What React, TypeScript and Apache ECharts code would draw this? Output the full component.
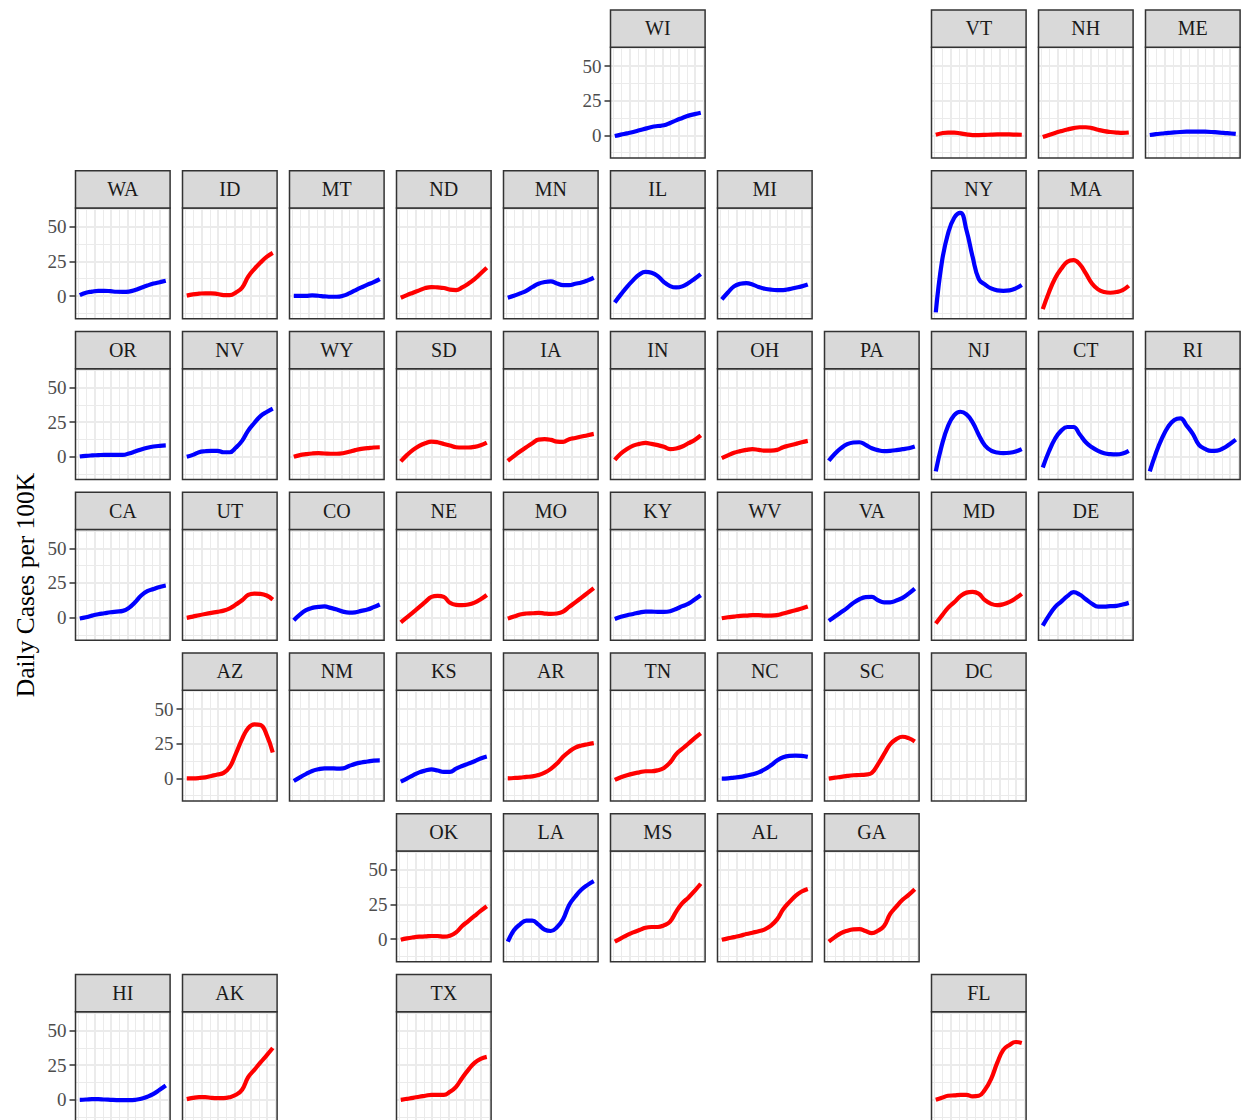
import React, { useEffect, useRef } from "react";
import * as echarts from "echarts";

const xWeeks = [0.17, 0.92, 1.67, 2.43, 3.18, 3.93, 4.68, 5.44, 6.19, 6.94, 7.69, 8.44, 9.2, 9.95, 10.7];
const yTicks = [0, 25, 50];
const yMinor = [-12.5, 12.5, 37.5, 62.5];
const xMajor = [2, 4, 6, 8, 10];
const xMinor = [0, 1, 3, 5, 7, 9, 11];

const WI = [-0.5, 0.5, 1.4, 2.4, 3.6, 4.8, 6, 6.7, 7.2, 8.9, 10.8, 12.5, 14.2, 15.3, 16.3];
const VT = [0.4, 1.5, 2, 2, 1.4, 0.7, 0.2, 0.2, 0.3, 0.5, 0.6, 0.6, 0.6, 0.5, 0.4];
const NH = [-1.2, 0.3, 1.7, 3, 4.2, 5.2, 5.8, 5.8, 5.2, 4, 3, 2.4, 2, 1.8, 2];
const ME = [0.2, 0.8, 1.3, 1.8, 2.1, 2.4, 2.6, 2.7, 2.7, 2.6, 2.4, 2.1, 1.8, 1.4, 1];
const WA = [0.7, 2.4, 3.2, 3.8, 3.8, 3.5, 3.1, 3, 3.2, 4.3, 6, 7.6, 9, 10, 11];
const ID = [0.3, 1.2, 1.7, 2, 2, 1.5, 0.7, 0.7, 2.6, 6, 14, 19.5, 24.2, 28.3, 31.2];
const MT = [0.2, 0.2, 0.2, 0.5, 0.2, -0.2, -0.5, -0.5, 0.2, 1.9, 4.1, 6.2, 8.2, 10, 12.2];
const ND = [-1.2, 0.7, 2.4, 4.1, 5.8, 6.5, 6.2, 5.8, 4.6, 4.3, 6.2, 8.9, 12.2, 16.3, 20.4];
const MN = [-1.2, 0.2, 1.9, 3.8, 6.5, 8.9, 10.1, 10.6, 9.1, 7.9, 7.9, 8.9, 9.8, 11.3, 13.2];
const IL = [-4.6, 1.2, 6.7, 11.5, 15.6, 17.5, 16.8, 14.4, 10.1, 7.2, 6.2, 7, 9.4, 12.5, 15.8];
const MI = [-2.4, 2.6, 7, 8.9, 9.4, 8.4, 6.5, 5.3, 4.6, 4.3, 4.3, 5, 6, 7, 8.4];
const NY = [-11.8, 24.7, 45.1, 56.5, 60, 47.5, 28.3, 12.2, 8.4, 5.5, 4.1, 3.8, 4.1, 5.5, 7.9];
const MA = [-9.4, 2.6, 12.7, 19.7, 24.7, 25.9, 23, 16.3, 9.1, 4.8, 2.9, 2.4, 2.9, 4.3, 7.4];
const OR = [0.2, 0.7, 1, 1.2, 1.4, 1.4, 1.4, 1.4, 2.4, 3.8, 5.3, 6.5, 7.4, 7.9, 8.2];
const NV = [0, 1.4, 3.3, 4, 4.3, 4.3, 3.3, 3.3, 6.7, 11.5, 18.9, 24.4, 29.4, 32.3, 34.7];
const WY = [0, 1.2, 1.9, 2.4, 2.6, 2.4, 2.2, 2.2, 2.6, 3.6, 4.8, 5.7, 6.2, 6.7, 6.9];
const SD = [-3.3, 1.2, 5, 7.9, 9.8, 11, 10.5, 9.3, 8.1, 6.9, 6.7, 6.7, 7.2, 8.4, 10.3];
const IA = [-2.9, 0.5, 3.8, 6.9, 9.8, 12.4, 12.7, 12.2, 11, 10.8, 12.7, 13.6, 14.6, 15.6, 16.5];
const IN = [-2.2, 2.4, 5.7, 8.1, 9.3, 10, 9.3, 8.4, 7.2, 5.5, 6, 7.4, 9.8, 12.2, 15.5];
const OH = [-1, 1, 2.9, 4.1, 5, 5.5, 5, 4.5, 4.5, 5, 6.9, 8.1, 9.3, 10.5, 11.5];
const PA = [-2.9, 2.2, 6.2, 9.1, 10.3, 10.5, 8.6, 6.2, 4.8, 4.1, 4.3, 4.8, 5.5, 6.2, 7.4];
const NJ = [-10.5, 8.6, 22.2, 30.1, 32.5, 30.6, 24.9, 15.8, 8.1, 4.5, 3.1, 2.6, 2.9, 3.8, 5.5];
const CT = [-7.7, 3.8, 13, 18.9, 21.5, 21.5, 16.3, 10.5, 6.9, 4.3, 2.6, 1.9, 1.7, 2.4, 4.3];
const RI = [-10.5, 2.6, 13.4, 21.8, 26.6, 27.8, 22.5, 16.5, 8.6, 5.7, 4.3, 4.5, 6.2, 9.1, 12.4];
const CA = [-0.7, 0.2, 1.4, 2.4, 3.1, 3.8, 4.3, 4.8, 7, 11, 15.9, 19, 20.6, 22.1, 23.1];
const UT = [-0.2, 0.7, 1.7, 2.6, 3.4, 4.1, 5, 6.7, 9.4, 12.5, 16.3, 17.3, 17.1, 15.9, 13];
const CO = [-1.9, 2.2, 5.3, 7, 7.7, 8, 7, 5.8, 4.3, 3.6, 3.8, 4.8, 5.8, 7.5, 9.4];
const NE = [-3.4, 0.2, 3.8, 7.5, 11.3, 14.9, 15.6, 14.9, 10.6, 9.1, 8.9, 9.4, 10.8, 13.2, 16.3];
const MO = [-0.7, 0.7, 2.2, 2.9, 3.1, 3.4, 2.9, 2.6, 2.9, 4.3, 7.7, 11, 14.4, 17.8, 21.2];
const KY = [-1, 0.5, 1.7, 2.6, 3.6, 4.3, 4.3, 4.1, 4.1, 4.6, 6.2, 8.2, 10, 13, 16.1];
const WV = [-0.5, 0.2, 0.7, 1.2, 1.4, 1.7, 1.7, 1.4, 1.4, 1.7, 2.9, 4.1, 5.3, 6.5, 7.9];
const VA = [-2.4, 0.7, 3.8, 7, 10.6, 13.2, 14.7, 14.9, 12.5, 11, 11, 12.3, 14.2, 17.3, 20.9];
const MD = [-4.3, 1.4, 7, 11, 15.4, 18, 18.5, 17.1, 12.5, 9.9, 8.9, 9.6, 11.3, 13.9, 17.1];
const DE = [-5.8, 1.4, 7.5, 11.5, 15.4, 18.3, 16.6, 13.2, 10, 7.9, 7.9, 8.2, 8.4, 9.4, 10.6];
const AZ = [0, 0, 0.2, 0.7, 1.7, 2.7, 3.9, 8.2, 17.9, 28.3, 36.2, 38.9, 38.4, 31.4, 18.6];
const NM = [-1.9, 0.7, 3.1, 5.3, 6.5, 7.2, 7.2, 7, 7.2, 8.9, 10.4, 11.4, 12.1, 12.8, 13];
const KS = [-2.4, -0.2, 2.2, 4.3, 5.6, 6.5, 5.6, 4.6, 4.6, 7, 8.9, 10.6, 12.3, 14.3, 15.7];
const AR = [0, 0.2, 0.5, 1, 1.4, 2.4, 4.1, 6.8, 10.6, 15.5, 19.3, 22.2, 23.7, 24.6, 25.4];
const TN = [-1.2, 0.7, 2.2, 3.4, 4.3, 5.1, 5.1, 5.8, 7.5, 11.4, 17.4, 21.3, 25.1, 29, 32.4];
const NC = [-0.2, 0, 0.5, 1, 1.9, 2.9, 4.3, 6.5, 9.4, 12.8, 15.2, 16.2, 16.4, 16.2, 15.5];
const SC = [-0.2, 0.5, 1, 1.7, 2.2, 2.4, 2.7, 3.9, 10.1, 17.4, 24.6, 28.3, 30, 29, 26.6];
const OK = [-0.5, 0.5, 1.2, 1.7, 1.9, 2.2, 2.2, 1.7, 2.4, 4.8, 9.4, 13, 16.7, 20.3, 23.7];
const LA = [-1.9, 6.3, 10.6, 13.3, 13.3, 10.4, 6.8, 5.8, 8.5, 14.3, 24.6, 30.7, 35.7, 39.1, 41.8];
const MS = [-1.9, 0.5, 2.9, 4.8, 6.5, 8.2, 8.7, 8.7, 9.9, 12.6, 19.8, 25.9, 30, 34.8, 39.9];
const AL = [-0.5, 0.5, 1.4, 2.4, 3.6, 4.6, 5.6, 7, 9.7, 14.2, 21.5, 26.6, 31.2, 34.3, 36.2];
const GA = [-1.9, 1.4, 4.3, 6, 7, 7.2, 5.8, 4.3, 6, 9.4, 18.1, 23.4, 28.3, 31.9, 36];
const HI = [0, 0.2, 0.5, 0.5, 0.2, 0, -0.2, -0.2, -0.2, 0, 0.7, 2.2, 4.3, 7.2, 10.3];
const AK = [0.5, 1.4, 1.9, 1.9, 1.4, 1.2, 1.2, 1.9, 3.6, 7.2, 16.3, 21.6, 27, 32.1, 37.4];
const TX = [0, 0.7, 1.4, 2.2, 2.9, 3.6, 3.6, 3.6, 5.8, 9.4, 15.8, 21.6, 26.6, 29.5, 31];
const FL = [0, 1.4, 2.9, 3.2, 3.6, 3.6, 2.5, 2.9, 7.2, 15, 26.6, 36, 39.6, 41.7, 41];
const DC: number[] = [];

const seriesByState: Record<string, number[]> = {
  WI, VT, NH, ME, WA, ID, MT, ND, MN, IL, MI, NY, MA, OR, NV, WY, SD, IA, IN, OH, PA, NJ, CT, RI,
  CA, UT, CO, NE, MO, KY, WV, VA, MD, DE, AZ, NM, KS, AR, TN, NC, SC, DC, OK, LA, MS, AL, GA, HI, AK, TX, FL,
};

const redStates = ["VT", "NH", "ID", "ND", "MA", "WY", "SD", "IA", "IN", "OH", "UT", "NE", "MO", "WV", "MD", "AZ", "AR", "TN", "SC", "OK", "MS", "AL", "GA", "AK", "TX", "FL"];

const mapRows = [
  ["", "", "", "", "", "WI", "", "", "VT", "NH", "ME"],
  ["WA", "ID", "MT", "ND", "MN", "IL", "MI", "", "NY", "MA", ""],
  ["OR", "NV", "WY", "SD", "IA", "IN", "OH", "PA", "NJ", "CT", "RI"],
  ["CA", "UT", "CO", "NE", "MO", "KY", "WV", "VA", "MD", "DE", ""],
  ["", "AZ", "NM", "KS", "AR", "TN", "NC", "SC", "DC", "", ""],
  ["", "", "", "OK", "LA", "MS", "AL", "GA", "", "", ""],
  ["HI", "AK", "", "TX", "", "", "", "", "FL", "", ""],
];

const yTitle = "Daily Cases per 100K";
const SERIF = "'Liberation Serif', serif";

function buildOption() {
  const grid: any[] = [];
  const xAxis: any[] = [];
  const yAxis: any[] = [];
  const series: any[] = [];
  const graphic: any[] = [];

  const majorStyle = { color: "#ebebeb", width: 2, type: "solid" };
  const minorStyle = { color: "#ebebeb", width: 1, type: "solid" };

  mapRows.forEach((row, r) => {
    const firstCol = row.findIndex((s) => s !== "");
    row.forEach((state, c) => {
      if (!state) return;
      const idx = grid.length;
      const left = 75.5 + 107 * c;
      const stripTop = 10 + 160.75 * r;
      const top = stripTop + 37.3;
      const width = 94.6;
      const height = 110.8;
      grid.push({
        left, top, width, height, show: true, backgroundColor: "#ffffff",
        borderWidth: 0, containLabel: false,
      });
      xAxis.push({ gridIndex: idx, type: "value", min: -0.354, max: 11.23, show: false, splitLine: { show: false } });
      const hasAxis = c === firstCol;
      yAxis.push({
        gridIndex: idx, type: "value", min: -16.45, max: 63.5,
        splitLine: { show: false },
        axisLine: { show: false, onZero: false },
        axisTick: { show: hasAxis, length: 6, customValues: yTicks, lineStyle: { color: "#333333", width: 1.5 } },
        axisLabel: { show: hasAxis, customValues: yTicks, color: "#4d4d4d", fontFamily: SERIF, fontSize: 19, margin: 9 },
      });
      series.push({
        type: "line", xAxisIndex: idx, yAxisIndex: idx, data: [], silent: true, z: 1,
        markLine: {
          silent: true, symbol: "none", animation: false, precision: 3, z: 1,
          label: { show: false },
          data: [
            ...xMinor.map((v) => ({ xAxis: v, lineStyle: minorStyle })),
            ...yMinor.map((v) => ({ yAxis: v, lineStyle: minorStyle })),
            ...xMajor.map((v) => ({ xAxis: v, lineStyle: majorStyle })),
            ...yTicks.map((v) => ({ yAxis: v, lineStyle: majorStyle })),
          ],
        },
      });
      const values = seriesByState[state];
      if (values.length) {
        series.push({
          type: "line", name: state, xAxisIndex: idx, yAxisIndex: idx, z: 5,
          data: values.map((v, i) => [xWeeks[i], v]),
          showSymbol: false, symbol: "none", smooth: 0.45,
          lineStyle: { color: redStates.includes(state) ? "#ff0000" : "#0000ff", width: 4.2, cap: "butt", join: "round" },
        });
      }
      graphic.push({
        type: "rect", shape: { x: left, y: top, width, height },
        style: { fill: "none", stroke: "#333333", lineWidth: 1.5 }, z: 9,
      });
      graphic.push({
        type: "rect", shape: { x: left, y: stripTop, width, height: 37.3 },
        style: { fill: "#d9d9d9", stroke: "#333333", lineWidth: 1.5 }, z: 10,
      });
      graphic.push({
        type: "text", x: left + width / 2, y: stripTop + 18.4,
        style: { text: state, fill: "#1a1a1a", font: `20px ${SERIF}`, textAlign: "center", textVerticalAlign: "middle" }, z: 11,
      });
    });
  });

  graphic.push({
    type: "text", x: 25, y: 585, rotation: Math.PI / 2,
    style: { text: yTitle, fill: "#000000", font: `25.5px ${SERIF}`, textAlign: "center", textVerticalAlign: "middle" },
  });

  return { animation: false, grid, xAxis, yAxis, series, graphic };
}

export default function App() {
  const ref = useRef<HTMLDivElement>(null);
  useEffect(() => {
    document.body.style.margin = "0";
    const chart = echarts.init(ref.current!, undefined, { renderer: "svg" });
    chart.setOption(buildOption() as any);
    return () => chart.dispose();
  }, []);
  return (
    <div style={{ width: 1241, height: 1120, overflow: "hidden", background: "#fff" }}>
      <div ref={ref} style={{ width: 1241, height: 1140 }} />
    </div>
  );
}
